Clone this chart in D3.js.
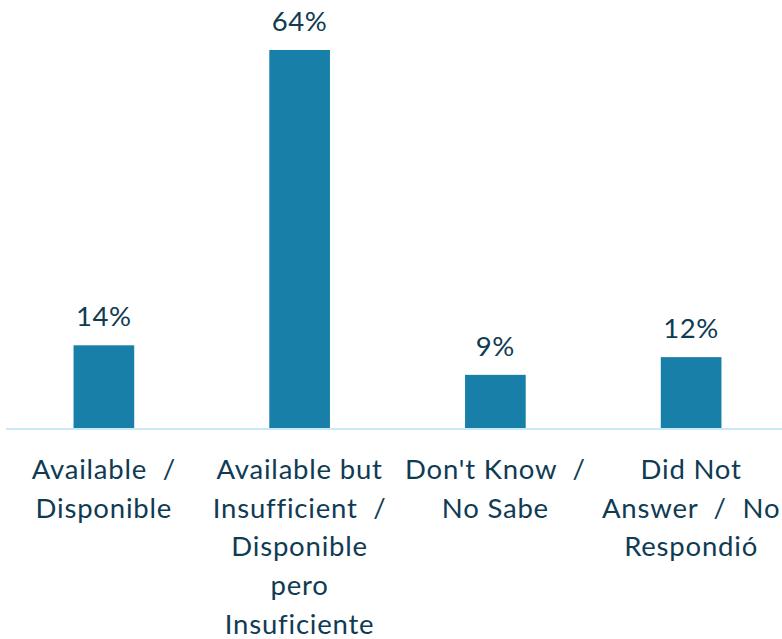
<!DOCTYPE html>
<html>
<head>
<meta charset="utf-8">
<script src="https://cdn.jsdelivr.net/npm/d3@7"></script>
<style>
  body { margin: 0; background: #fff; }
  text { font-family: Lato, "Open Sans", sans-serif; fill: #0f3b53; }
</style>
</head>
<body>
<div id="chart-area"></div>
<script>
// Datos
const categories = ["available", "insufficient", "dontknow", "noanswer"];
const values = [14, 64, 9, 12];
const tickLabels = [
    ["Available  /", "Disponible"],
    ["Available but", "Insufficient  /", "Disponible", "pero", "Insuficiente"],
    ["Don't Know  /", "No Sabe"],
    ["Did Not", "Answer  /  No", "Respondió"]
];

const W = 782, H = 639;
const baseline = 428;

const svg = d3.select("#chart-area")
    .append("svg")
    .attr("width", W)
    .attr("height", H);

// Escalas
const x = d3.scaleBand()
    .domain(categories)
    .range([6, 789])
    .paddingInner(0.69)
    .paddingOuter(0.345);

const y = d3.scaleLinear()
    .domain([0, 64])
    .range([baseline, 50]);

// Barras
svg.selectAll(".bar")
    .data(values)
    .enter().append("rect")
    .attr("class", "bar")
    .attr("x", (d, i) => x(categories[i]))
    .attr("y", d => y(d))
    .attr("width", x.bandwidth())
    .attr("height", d => y(0) - y(d))
    .attr("fill", "#1880a8");

// Línea base
svg.append("line")
    .attr("x1", 6)
    .attr("x2", W)
    .attr("y1", baseline + 1)
    .attr("y2", baseline + 1)
    .attr("stroke", "#c8eaf8")
    .attr("stroke-width", 2);

// Etiquetas de valor
svg.selectAll(".value")
    .data(values)
    .enter().append("text")
    .attr("class", "value")
    .attr("x", (d, i) => x(categories[i]) + x.bandwidth() / 2)
    .attr("y", d => y(d) - 19)
    .attr("text-anchor", "middle")
    .style("font-size", "27.5px")
    .style("letter-spacing", "0.6px")
    .text(d => d + "%");

// Etiquetas de categoría
const labels = svg.selectAll(".cat")
    .data(tickLabels)
    .enter().append("text")
    .attr("class", "cat")
    .attr("text-anchor", "middle")
    .attr("x", (d, i) => x(categories[i]) + x.bandwidth() / 2)
    .attr("y", 479)
    .style("font-size", "27.5px")
    .style("letter-spacing", "0.8px")
    .attr("xml:space", "preserve");

labels.selectAll("tspan")
    .data((d, i) => d.map(t => ({ t, cx: x(categories[i]) + x.bandwidth() / 2 })))
    .enter().append("tspan")
    .attr("x", d => d.cx)
    .attr("dy", (d, j) => j === 0 ? 0 : 38.7)
    .text(d => d.t);
</script>
</body>
</html>
